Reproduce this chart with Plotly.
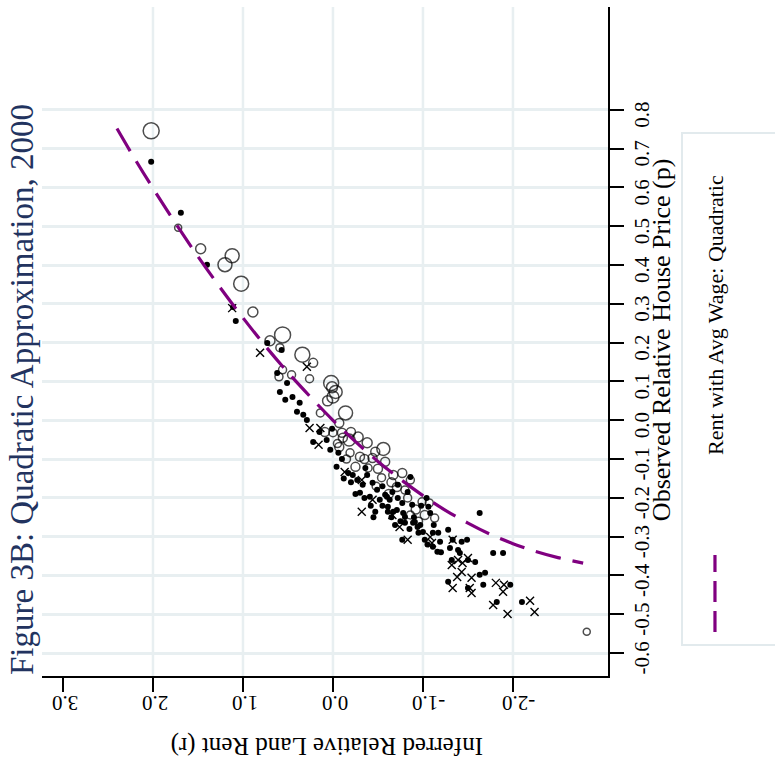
import plotly.graph_objects as go

# Metro areas: inferred relative land rent (r) vs observed relative house price (p)
# Large metros (hollow circles, scaled by weight)
CIRCLE_R = [2.02, 1.72, 1.47, 1.20, 1.12, 1.02, 0.89, 0.70, 0.56, 0.59, 0.34, 0.22,
            0.60, 0.46, 0.26, 0.02, -0.03, 0.00, 0.06, -0.14, -0.07, 0.09, -0.18,
            -0.07, -0.38, -0.47, 0.00, -0.11, -0.28, -0.56, -0.19, -0.30, -0.44,
            -0.58, -0.67, -0.77, -0.54, -0.71, -0.86, -1.02, -1.13, -0.86, -0.99,
            -1.07, -2.82, 0.56, 0.14, -0.39, -0.10, 0.01,
            -0.25, -0.48, -0.62, -0.83, -0.92, -0.50, -0.15,
            -0.35, -0.65, -0.80, -0.95, -0.20, -0.05]
CIRCLE_P = [0.746, 0.496, 0.442, 0.401, 0.424, 0.352, 0.279, 0.205, 0.220, 0.187,
            0.169, 0.148, 0.112, 0.117, 0.107, 0.096, 0.073, 0.060, 0.050, 0.019,
            -0.007, -0.030, -0.051, -0.069, -0.058, -0.081, -0.032, -0.045, -0.043,
            -0.074, -0.084, -0.094, -0.097, -0.107, -0.141, -0.136, -0.148, -0.172,
            -0.154, -0.244, -0.252, -0.244, -0.210, -0.213, -0.545, 0.130, 0.019,
            -0.123, -0.032, 0.085,
            -0.120, -0.170, -0.190, -0.200, -0.230, -0.125, -0.100,
            -0.100, -0.160, -0.180, -0.260, -0.030, -0.060]
CIRCLE_WEIGHT = [16, 7, 10, 14, 14, 15, 10, 10, 16, 8, 15, 9, 8, 8, 8, 15, 13, 12,
                 10, 14, 9, 9, 12, 9, 10, 9, 8, 9, 10, 13, 8, 9, 9, 9, 9, 9, 8, 9,
                 8, 9, 8, 8, 8, 8, 7, 8, 8, 8, 9, 11,
                 9, 8, 9, 8, 9, 9, 8,
                 9, 9, 8, 8, 9, 8]

# Mid-size metros (filled dots)
DOT_R = [2.02, 1.69, 1.40, 1.11, 1.08, 0.73, 0.57, 0.62, 0.51, 0.59, 0.53, 0.37,
         0.40, 0.33, 0.29, 0.22, 0.07, 0.01, 0.03, -0.06, -0.04, -0.17, -0.22,
         -0.27, -0.36, -0.38, -0.33, -0.44, -0.49, -0.30, -0.41, -0.52, -0.58,
         -0.63, -0.61, -0.71, -0.47, -0.77, -0.80, -0.88, -0.91, -0.94, -1.04,
         -1.06, -1.08, -0.86, -0.66, -0.83, -0.60, -0.67, -0.69, -0.78, -0.80,
         -0.89, -0.97, -1.00, -1.02, -1.11, -1.17, -1.19, -1.11, -1.16, -1.28,
         -1.33, -1.30, -1.39, -1.43, -1.49, -1.32, -1.41, -1.50, -1.58, -1.63,
         -1.69, -1.78, -1.89, -1.28, -1.50, -1.67, -1.97, -1.82, -2.10, -0.77,
         -0.72, -0.61, -1.63,
         -0.10, -0.20, -0.55, -0.75, -0.95, -1.05, -1.20, 0.15, 0.45, -0.45, -0.85,
         -0.35, -0.55, -0.65, -0.90, -0.98, -0.72, -0.25, -0.42, -1.12, -0.12]
DOT_P = [0.666, 0.535, 0.401, 0.292, 0.256, 0.199, 0.181, 0.122, 0.096, 0.073,
         0.053, 0.045, 0.022, 0.014, 0.001, -0.056, -0.051, -0.022, -0.076,
         -0.084, -0.120, -0.136, -0.141, -0.154, -0.123, -0.141, -0.166, -0.161,
         -0.179, -0.187, -0.197, -0.205, -0.192, -0.205, -0.223, -0.231, -0.236,
         -0.213, -0.249, -0.218, -0.262, -0.275, -0.200, -0.223, -0.239, -0.146,
         -0.185, -0.185, -0.197, -0.236, -0.270, -0.239, -0.264, -0.264, -0.270,
         -0.288, -0.308, -0.290, -0.290, -0.313, -0.326, -0.339, -0.282, -0.308,
         -0.329, -0.334, -0.313, -0.308, -0.360, -0.342, -0.360, -0.365, -0.398,
         -0.393, -0.342, -0.342, -0.416, -0.432, -0.424, -0.424, -0.468, -0.468,
         -0.308, -0.166, -0.236, -0.239,
         -0.100, -0.160, -0.220, -0.260, -0.290, -0.320, -0.340, -0.030, 0.060,
         -0.250, -0.280,
         -0.200, -0.170, -0.250, -0.250, -0.220, -0.200, -0.190, -0.220, -0.270,
         -0.150]

# Small metros (crosses)
CROSS_R = [1.12, 0.81, 0.29, 0.26, 0.14, 0.16, -0.13, -0.32, -0.44, -0.32, -0.66,
           -0.74, -0.83, -1.08, -1.10, -1.33, -1.32, -1.39, -1.44, -1.50, -1.43,
           -1.38, -1.54, -1.33, -1.52, -1.54, -1.81, -1.90, -1.89, -1.78, -1.94,
           -2.19, -2.24]
CROSS_P = [0.289, 0.174, 0.138, -0.020, -0.020, -0.063, -0.133, -0.154, -0.205,
           -0.236, -0.244, -0.275, -0.308, -0.301, -0.316, -0.308, -0.373, -0.360,
           -0.368, -0.355, -0.391, -0.404, -0.406, -0.432, -0.432, -0.445, -0.419,
           -0.424, -0.442, -0.476, -0.499, -0.465, -0.494]

# Quadratic fit: rent with average wage
FIT_R = [2.40, 2.20, 2.00, 1.75, 1.50, 1.25, 1.00, 0.75, 0.50, 0.25, 0.00, -0.25,
         -0.50, -0.75, -1.00, -1.25, -1.50, -1.75, -2.00, -2.25, -2.50, -2.78]
FIT_P = [0.752, 0.673, 0.598, 0.508, 0.422, 0.341, 0.264, 0.191, 0.123, 0.060,
         0.000, -0.055, -0.106, -0.152, -0.194, -0.232, -0.265, -0.294, -0.318,
         -0.338, -0.354, -0.368]

X_TICKS = [3.0, 2.0, 1.0, 0.0, -1.0, -2.0]
X_TICK_TEXT = ["3.0", "2.0", "1.0", "0.0", "-1.0", "-2.0"]
X_GRID = [2.0, 1.0, 0.0, -1.0, -2.0]
Y_TICKS = [-0.6, -0.5, -0.4, -0.3, -0.2, -0.1, 0.0, 0.1, 0.2, 0.3, 0.4, 0.5, 0.6, 0.7, 0.8]
Y_TICK_TEXT = ["-0.6", "-0.5", "-0.4", "-0.3", "-0.2", "-0.1", "0.0", "0.1", "0.2",
               "0.3", "0.4", "0.5", "0.6", "0.7", "0.8"]

FONT = "Liberation Serif"
GRID = "#e8eff1"
PURPLE = "#800080"

fig = go.Figure()

fig.add_trace(go.Scatter(
    x=CIRCLE_R, y=CIRCLE_P, mode="markers", showlegend=False,
    marker=dict(symbol="circle-open", size=CIRCLE_WEIGHT, sizemode="diameter",
                color="black", line=dict(width=1.5, color="black")),
))
fig.add_trace(go.Scatter(
    x=DOT_R, y=DOT_P, mode="markers", showlegend=False,
    marker=dict(symbol="circle", size=6, color="black"),
))
fig.add_trace(go.Scatter(
    x=CROSS_R, y=CROSS_P, mode="markers", showlegend=False,
    marker=dict(symbol="x-thin-open", size=8, color="black",
                line=dict(width=1.4, color="black")),
))
fig.add_trace(go.Scatter(
    x=FIT_R, y=FIT_P, mode="lines", showlegend=False, line_shape="spline",
    line=dict(color=PURPLE, width=3.2, dash="26px,12px"),
))

# vertical grid lines (none at the outer 3.0 tick)
for g in X_GRID:
    fig.add_shape(type="line", xref="x", yref="paper", x0=g, x1=g, y0=0, y1=1,
                  line=dict(color=GRID, width=2.5), layer="below")

# legend drawn as a rotated key
fig.add_shape(type="rect", xref="paper", yref="paper",
              x0=1.1307, x1=1.40, y0=0.0463, y1=0.8117,
              line=dict(color="#e2eaed", width=2), fillcolor="white", layer="below")
fig.add_shape(type="line", xref="paper", yref="paper",
              x0=1.189, x1=1.189, y0=0.0658, y1=0.181,
              line=dict(color=PURPLE, width=3.2, dash="21px,9px"))
fig.add_annotation(text="Rent with Avg Wage: Quadratic", xref="paper", yref="paper",
                   x=1.189, y=0.5396, textangle=-90, showarrow=False,
                   xanchor="center", yanchor="middle",
                   font=dict(family=FONT, size=22, color="black"))

# titles
fig.add_annotation(text="Figure 3B: Quadratic Approximation, 2000", xref="paper", yref="paper",
                   x=-0.0353, y=0.4275, textangle=-90, showarrow=False,
                   xanchor="center", yanchor="middle",
                   font=dict(family=FONT, size=33, color="#22335f"))
fig.add_annotation(text="Observed Relative House Price (p)", xref="paper", yref="paper",
                   x=1.0936, y=0.502, textangle=-90, showarrow=False,
                   xanchor="center", yanchor="middle",
                   font=dict(family=FONT, size=26, color="black"))
fig.add_annotation(text="Inferred Relative Land Rent (r)", xref="paper", yref="paper",
                   x=0.5035, y=-0.1046, textangle=180, showarrow=False,
                   xanchor="center", yanchor="middle",
                   font=dict(family=FONT, size=25, color="black"))

fig.update_layout(
    width=775, height=774,
    margin=dict(l=42, r=167, t=7, b=98),
    paper_bgcolor="white", plot_bgcolor="white",
    font=dict(family=FONT, color="black"),
    xaxis=dict(range=[3.233, -3.056], tickvals=X_TICKS, ticktext=X_TICK_TEXT,
               tickangle=180, ticks="outside", ticklen=14, tickwidth=1.8,
               tickcolor="black", showline=True, linecolor="black", linewidth=1.8,
               showgrid=False, zeroline=False, ticklabelshift=11,
               tickfont=dict(size=21, family=FONT)),
    yaxis=dict(range=[-0.659, 1.065], side="right", tickvals=Y_TICKS,
               ticktext=Y_TICK_TEXT, tickangle=-90, ticks="outside", ticklen=14,
               tickwidth=1.8, tickcolor="black", showline=True, linecolor="black",
               linewidth=1.8, showgrid=True, gridcolor=GRID, gridwidth=2.5,
               zeroline=False, ticklabelshift=8,
               tickfont=dict(size=21, family=FONT)),
)

fig.write_html("out.html")
